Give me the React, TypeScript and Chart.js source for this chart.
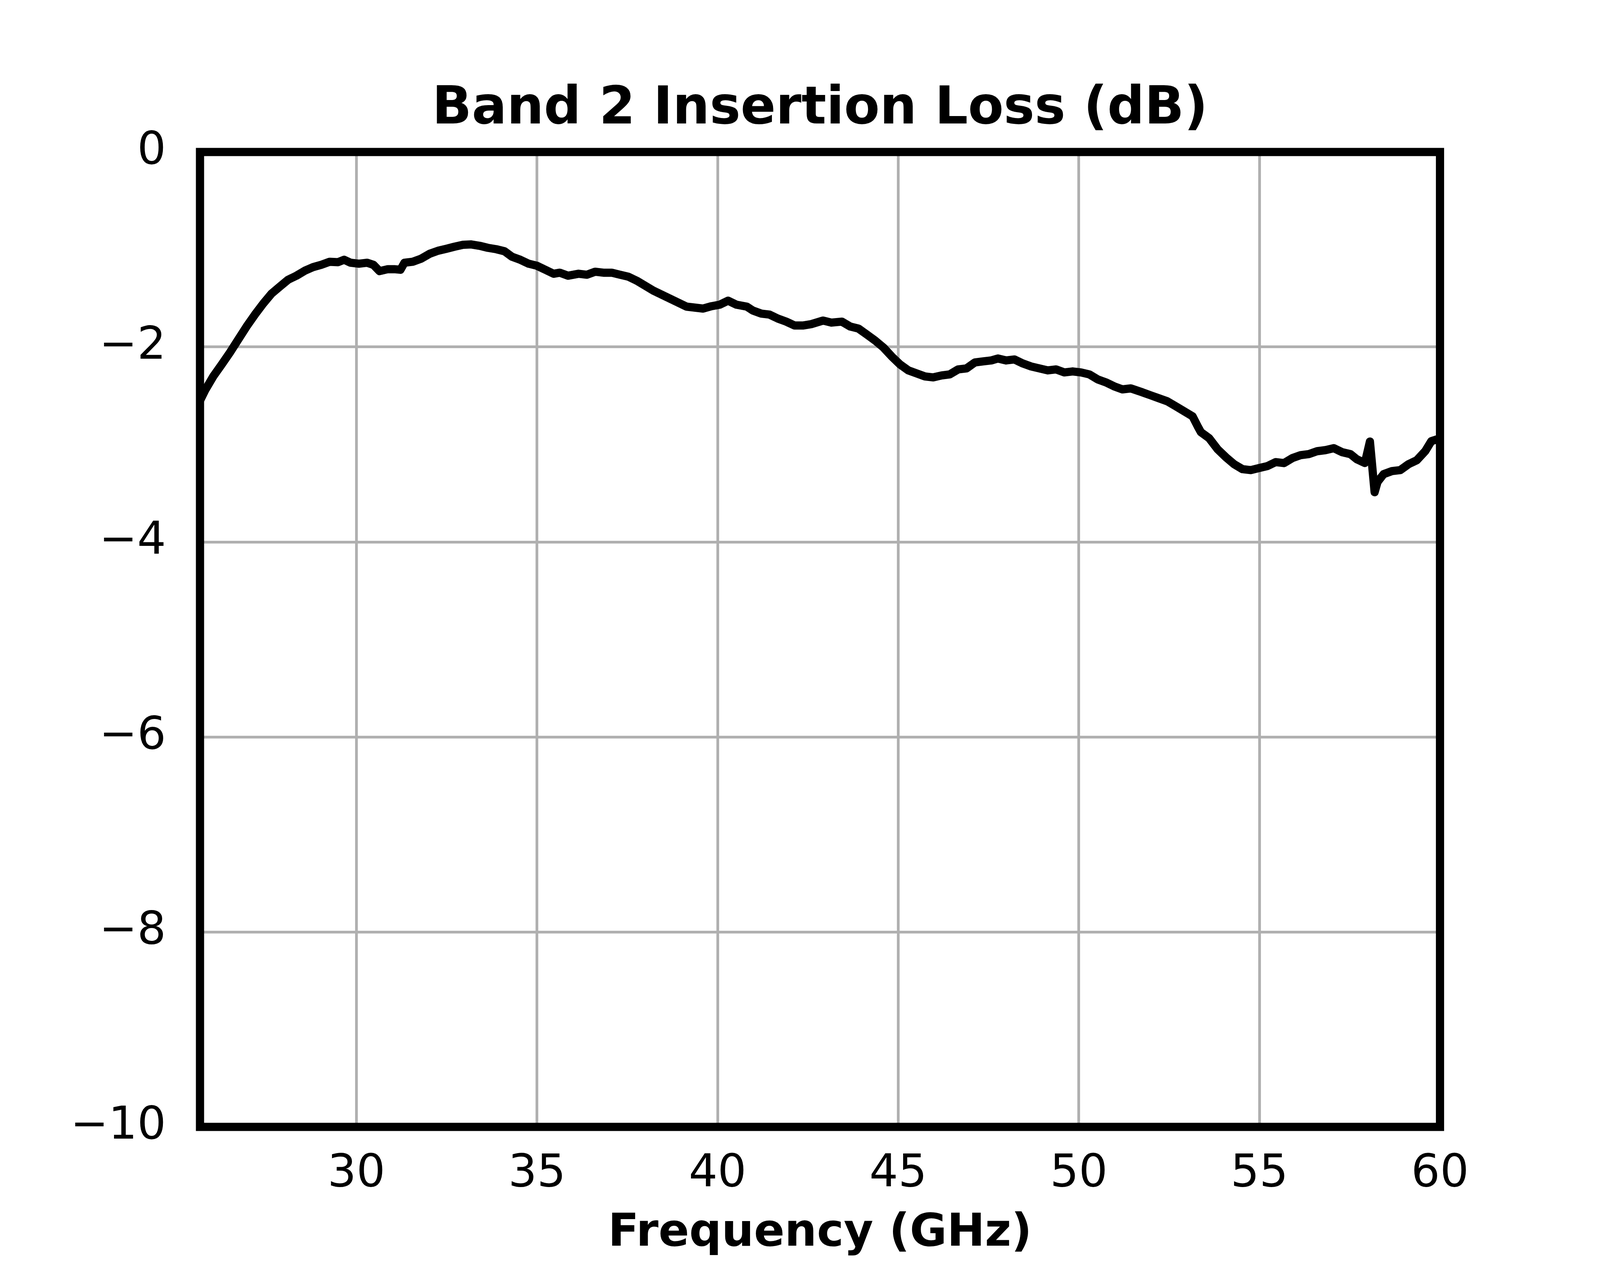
import { useEffect, useRef } from 'react'
import { Chart, registerables } from 'chart.js'
import type { ChartConfiguration, Plugin } from 'chart.js'

Chart.register(...registerables)

const freqGHz = [
  25.67, 25.81, 26.04, 26.27, 26.5, 26.73, 26.96, 27.19, 27.42, 27.65,
  27.88, 28.11, 28.34, 28.57, 28.8, 29.03, 29.26, 29.49, 29.66, 29.84,
  30.07, 30.3, 30.47, 30.64, 30.87, 31.05, 31.22, 31.33, 31.56, 31.79,
  32.03, 32.26, 32.49, 32.71, 32.95, 33.18, 33.41, 33.64, 33.87, 34.1,
  34.31, 34.54, 34.77, 35.0, 35.23, 35.46, 35.63, 35.86, 36.15, 36.38,
  36.61, 36.84, 37.07, 37.3, 37.53, 37.76, 37.99, 38.22, 38.45, 38.68,
  38.91, 39.14, 39.37, 39.6, 39.83, 40.06, 40.29, 40.52, 40.81, 40.98,
  41.21, 41.44, 41.67, 41.9, 42.13, 42.36, 42.59, 42.92, 43.15, 43.44,
  43.67, 43.9, 44.13, 44.36, 44.59, 44.82, 45.05, 45.28, 45.51, 45.74,
  45.97, 46.2, 46.43, 46.66, 46.89, 47.12, 47.35, 47.58, 47.76, 47.99,
  48.22, 48.45, 48.68, 48.91, 49.14, 49.37, 49.6, 49.83, 50.06, 50.29,
  50.52, 50.75, 50.98, 51.21, 51.44, 51.76, 51.99, 52.22, 52.45, 52.69,
  52.92, 53.15, 53.29, 53.38, 53.61, 53.84, 54.07, 54.3, 54.53, 54.76,
  54.99, 55.22, 55.45, 55.68, 55.91, 56.14, 56.37, 56.6, 56.83, 57.06,
  57.29, 57.52, 57.69, 57.92, 58.06, 58.19, 58.27, 58.44, 58.67, 58.9,
  59.13, 59.36, 59.59, 59.76, 59.93, 60.0,
]
const lossDb = [
  -2.55, -2.445, -2.3, -2.18, -2.056, -1.923, -1.79, -1.668, -1.555, -1.453,
  -1.381, -1.31, -1.269, -1.218, -1.181, -1.157, -1.126, -1.13, -1.105, -1.136,
  -1.146, -1.136, -1.157, -1.222, -1.202, -1.202, -1.208, -1.136, -1.126, -1.095,
  -1.044, -1.013, -0.993, -0.972, -0.952, -0.948, -0.962, -0.983, -0.997, -1.018,
  -1.075, -1.106, -1.146, -1.167, -1.208, -1.249, -1.238, -1.269, -1.249, -1.259,
  -1.228, -1.238, -1.238, -1.259, -1.279, -1.32, -1.371, -1.422, -1.463, -1.504,
  -1.545, -1.586, -1.596, -1.606, -1.582, -1.566, -1.525, -1.566, -1.586, -1.627,
  -1.658, -1.668, -1.709, -1.74, -1.78, -1.78, -1.766, -1.729, -1.75, -1.74,
  -1.79, -1.811, -1.872, -1.934, -2.005, -2.097, -2.179, -2.24, -2.271, -2.302,
  -2.312, -2.292, -2.281, -2.23, -2.22, -2.159, -2.148, -2.138, -2.118, -2.138,
  -2.128, -2.169, -2.2, -2.22, -2.24, -2.23, -2.261, -2.251, -2.261, -2.281,
  -2.332, -2.363, -2.404, -2.435, -2.425, -2.465, -2.496, -2.527, -2.557, -2.609,
  -2.66, -2.711, -2.813, -2.874, -2.936, -3.048, -3.13, -3.202, -3.253, -3.263,
  -3.242, -3.222, -3.181, -3.191, -3.14, -3.11, -3.099, -3.069, -3.058, -3.038,
  -3.079, -3.099, -3.15, -3.19, -2.97, -3.49, -3.385, -3.304, -3.273, -3.263,
  -3.202, -3.161, -3.069, -2.966, -2.946, -2.936,
]
const xTicks = [30, 35, 40, 45, 50, 55, 60]
const yTicks = [-10, -8, -6, -4, -2, 0]

// reference figure size; layout below is measured in these pixels
const W = 5400
const H = 3240
const FAMILY = '"DejaVu Sans", sans-serif'

// matplotlib-style box around the plot area, drawn over the trace
function framePlugin(width: number): Plugin<'line'> {
  return {
    id: 'frame',
    afterDraw(chart) {
      const { ctx, chartArea: a } = chart
      ctx.save()
      ctx.strokeStyle = '#000'
      ctx.lineWidth = width
      ctx.lineJoin = 'miter'
      ctx.strokeRect(a.left, a.top, a.right - a.left, a.bottom - a.top)
      ctx.restore()
    },
  }
}

// sx/sy map reference pixels to the real canvas; sizes of text and strokes follow sy
function makeConfig(sx: number, sy: number): ChartConfiguration<'line'> {
  const tickFont = { family: FAMILY, size: 116 * sy }
  const grid = { color: '#b0b0b0', lineWidth: 7 * sy, drawTicks: false }
  return {
    type: 'line',
    data: {
      datasets: [{
        data: freqGHz.map((f, i) => ({ x: f, y: lossDb[i] })),
        borderColor: '#000',
        borderWidth: 21 * sy,
        borderJoinStyle: 'round',
        pointRadius: 0,
        tension: 0,
        fill: false,
      }],
    },
    options: {
      responsive: false,
      animation: false,
      devicePixelRatio: 1,
      layout: { padding: { left: 0, right: 540 * sx, top: 0, bottom: 0 } },
      plugins: {
        legend: { display: false },
        tooltip: { enabled: false },
        title: {
          display: true,
          fullSize: false,
          text: 'Band 2 Insertion Loss (dB)',
          color: '#000',
          font: { family: FAMILY, size: 133 * sy, weight: 'bold' },
          padding: { top: 202 * sy, bottom: 27.4 * sy },
        },
      },
      scales: {
        x: {
          type: 'linear',
          min: 25.67,
          max: 60,
          afterBuildTicks: (s) => { s.ticks = xTicks.map((v) => ({ value: v })) },
          afterFit: (s) => { s.height = 356 * sy },
          grid,
          border: { display: false },
          ticks: { color: '#000', font: tickFont, padding: 52 * sy, maxRotation: 0 },
          title: {
            display: true,
            text: 'Frequency (GHz)',
            color: '#000',
            font: { family: FAMILY, size: 116 * sy, weight: 'bold' },
            padding: { top: 0, bottom: 13 * sy },
          },
        },
        y: {
          type: 'linear',
          min: -10,
          max: 0,
          afterBuildTicks: (s) => { s.ticks = yTicks.map((v) => ({ value: v })) },
          afterFit: (s) => { s.width = 675 * sx },
          grid,
          border: { display: false },
          ticks: {
            color: '#000',
            font: tickFont,
            padding: 87 * sy,
            callback: (v) => (Number(v) < 0 ? '\u2212' + Math.abs(Number(v)) : String(v)),
          },
        },
      },
    },
    plugins: [framePlugin(21 * sy)],
  }
}

export default function App() {
  const ref = useRef<HTMLCanvasElement>(null)
  useEffect(() => {
    const canvas = ref.current
    if (!canvas) return
    // the browser may give a smaller viewport than asked for; draw at its real size
    const vw = window.innerWidth || W
    const vh = window.innerHeight || H
    canvas.width = vw
    canvas.height = vh
    canvas.style.width = vw + 'px'
    canvas.style.height = vh + 'px'
    const chart = new Chart(canvas, makeConfig(vw / W, vh / H))
    return () => chart.destroy()
  }, [])
  return (
    <div style={{ position: 'fixed', left: 0, top: 0, width: '100vw', height: '100vh', background: '#fff' }}>
      <canvas ref={ref} style={{ display: 'block' }} />
    </div>
  )
}
